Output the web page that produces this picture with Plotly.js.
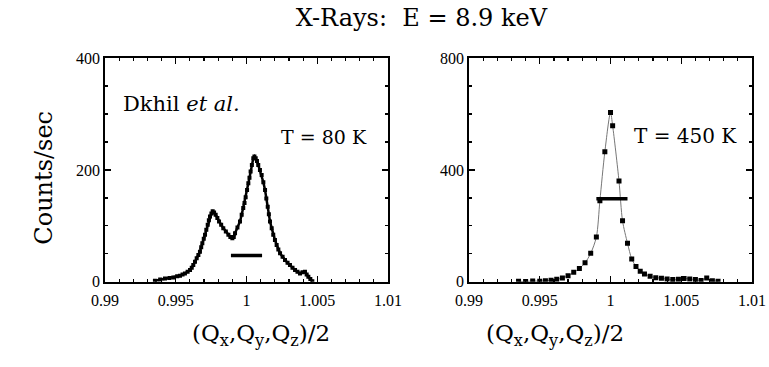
<!DOCTYPE html>
<html>
<head>
<meta charset="utf-8">
<script src="https://cdn.plot.ly/plotly-3.0.1.min.js"></script>
<style>html,body{margin:0;padding:0;background:#fff;}#plot{width:769px;height:367px;}</style>
</head>
<body>
<div id="plot"></div>
<script>
// ---- Data ----
const title = "X-Rays:\u00a0 E = 8.9 keV";
const yTitle = "Counts/sec";
const xTitle = "(Q<sub>x</sub>,Q<sub>y</sub>,Q<sub>z</sub>)/2";

const xTickVals = [0.99, 0.995, 1, 1.005, 1.01];
const xTickText = ["0.99", "0.995", "1", "1.005", "1.01"];
const yTickValsLeft = [0, 200, 400];
const yTickValsRight = [0, 400, 800];

// T = 80 K (left panel)
const x80 = [0.99353, 0.99390, 0.99424, 0.99455, 0.99483, 0.99510, 0.99530, 0.99548, 0.99565, 0.99584,
             0.99601, 0.99613, 0.99624, 0.99636, 0.99648, 0.99660, 0.99671, 0.99680, 0.99688, 0.99698,
             0.99707, 0.99716, 0.99726, 0.99734, 0.99742, 0.99752, 0.99761, 0.99771, 0.99782, 0.99794,
             0.99806, 0.99821, 0.99836, 0.99854, 0.99872, 0.99886, 0.99900, 0.99910, 0.99919, 0.99936,
             0.99954, 0.99966, 0.99977, 0.99986, 0.99994, 1.00004, 1.00013, 1.00021, 1.00029, 1.00038,
             1.00048, 1.00056, 1.00065, 1.00074, 1.00083, 1.00095, 1.00107, 1.00119, 1.00131, 1.00140,
             1.00150, 1.00158, 1.00166, 1.00178, 1.00189, 1.00201, 1.00213, 1.00225, 1.00237, 1.00255,
             1.00272, 1.00290, 1.00307, 1.00325, 1.00343, 1.00360, 1.00378, 1.00396, 1.00413, 1.00425,
             1.00437, 1.00451, 1.00465];
const y80 = [2, 4, 6, 7, 8, 10, 11, 13, 15, 18,
             21, 25, 30, 36, 42, 48, 54, 62, 69, 77,
             84, 93, 102, 110, 117, 122, 126, 124, 120, 114,
             108, 102, 96, 90, 84, 80, 78, 80, 87, 97,
             108, 120, 132, 141, 151, 164, 176, 186, 197, 209,
             221, 224, 221, 216, 209, 200, 191, 178, 164, 149,
             134, 121, 108, 96, 84, 75, 66, 58, 51, 45,
             39, 34, 30, 25, 21, 18, 15, 17, 18, 13,
             9, 5, 1];

// T = 450 K (right panel)
const x450 = [0.9935, 0.9940, 0.9945, 0.9950, 0.9954, 0.9958, 0.9962, 0.9966, 0.9970, 0.9974,
              0.9978, 0.9982, 0.9986, 0.9990, 0.99925, 0.9996, 1.0000, 1.00015, 1.0006, 1.00085,
              1.0012, 1.0015, 1.0018, 1.0021, 1.0024, 1.0028, 1.0032, 1.0036, 1.0040, 1.0044,
              1.0048, 1.0052, 1.0056, 1.0060, 1.0064, 1.0068, 1.0072, 1.0076];
const y450 = [2, 1, 3, 2, 4, 6, 9, 14, 22, 34,
              48, 68, 102, 160, 290, 465, 605, 558, 360, 218,
              138, 82, 55, 38, 28, 20, 15, 13, 10, 8,
              9, 12, 10, 8, 5, 14, 4, 2];

// resolution bars
const barX80 = [0.9989, 1.0011];
const barY80 = [47, 47];
const barX450 = [0.9990, 1.0012];
const barY450 = [297, 297];

const label80 = "T = 80 K";
const label450 = "T = 450 K";
const authorText = "Dkhil <i>et al.</i>";

// ---- Figure ----
const wide = "DejaVu Serif, serif";
const times = "Liberation Serif, Times New Roman, serif";

const traces = [
  {x: x80, y: y80, xaxis: 'x', yaxis: 'y', mode: 'lines+markers', type: 'scatter',
   line: {color: '#000', width: 2.5}, marker: {symbol: 'square', size: 4, color: '#000'}},
  {x: barX80, y: barY80, xaxis: 'x', yaxis: 'y', mode: 'lines', type: 'scatter',
   line: {color: '#000', width: 3.5}},
  {x: x450, y: y450, xaxis: 'x2', yaxis: 'y2', mode: 'lines+markers', type: 'scatter',
   line: {color: '#777', width: 1, shape: 'spline', smoothing: 0.8}, marker: {symbol: 'square', size: 5, color: '#000'}},
  {x: barX450, y: barY450, xaxis: 'x2', yaxis: 'y2', mode: 'lines', type: 'scatter',
   line: {color: '#000', width: 3.5}}
];

function xAxis(domain, anchor) {
  return {
    domain: domain, anchor: anchor, range: [0.99, 1.01],
    tickvals: xTickVals, ticktext: xTickText,
    ticks: 'inside', ticklen: 6, tickwidth: 1.2, tickcolor: '#000',
    minor: {dtick: 0.001, tick0: 0.99, ticks: 'inside', ticklen: 3, tickwidth: 1.2, tickcolor: '#000'},
    showline: true, linecolor: '#000', linewidth: 1.8, mirror: 'allticks',
    showgrid: false, zeroline: false,
    ticklabelstandoff: 3,
    tickfont: {family: times, size: 16, color: '#000'}
  };
}
function yAxis(domain, anchor, vals, minorStep, rng) {
  return {
    domain: domain, anchor: anchor, range: rng,
    tickvals: vals, ticktext: vals.map(String),
    ticks: 'inside', ticklen: 6, tickwidth: 1.2, tickcolor: '#000',
    minor: {dtick: minorStep, tick0: 0, ticks: 'inside', ticklen: 3, tickwidth: 1.2, tickcolor: '#000'},
    showline: true, linecolor: '#000', linewidth: 1.8, mirror: 'allticks',
    showgrid: false, zeroline: false,
    tickfont: {family: times, size: 16, color: '#000'}
  };
}

const yDom = [0.232, 0.842];
const layout = {
  width: 769, height: 367,
  margin: {l: 0, r: 0, t: 0, b: 0},
  paper_bgcolor: '#fff', plot_bgcolor: '#fff',
  showlegend: false,
  font: {family: times, color: '#000'},
  title: {text: title, font: {family: wide, size: 24, color: '#000'}, x: 0.548, xanchor: 'center', y: 0.953, yanchor: 'middle'},
  xaxis: xAxis([0.1365, 0.5046], 'y'),
  yaxis: yAxis(yDom, 'x', yTickValsLeft, 50, [0, 400]),
  xaxis2: xAxis([0.6099, 0.9779], 'y2'),
  yaxis2: yAxis(yDom, 'x2', yTickValsRight, 100, [0, 800]),
  annotations: [
    {text: yTitle, xref: 'paper', yref: 'paper', x: 0.036, y: 0.515, showarrow: false, textangle: -90,
     font: {family: wide, size: 24, color: '#000'}},
    {text: xTitle, xref: 'paper', yref: 'paper', x: 0.339, y: 0.04, showarrow: false,
     font: {family: wide, size: 23, color: '#000'}},
    {text: xTitle, xref: 'paper', yref: 'paper', x: 0.814, y: 0.04, showarrow: false,
     font: {family: wide, size: 23, color: '#000'}},
    {text: authorText, xref: 'x', yref: 'y', x: 0.9911, y: 318, xanchor: 'left', showarrow: false,
     font: {family: wide, size: 21, color: '#000'}},
    {text: label80, xref: 'x', yref: 'y', x: 1.0023, y: 258, xanchor: 'left', showarrow: false,
     font: {family: wide, size: 19, color: '#000'}},
    {text: label450, xref: 'x2', yref: 'y2', x: 1.0015, y: 522, xanchor: 'left', showarrow: false,
     font: {family: wide, size: 20, color: '#000'}}
  ]
};

Plotly.newPlot('plot', traces, layout, {staticPlot: true, displayModeBar: false});
</script>
</body>
</html>
